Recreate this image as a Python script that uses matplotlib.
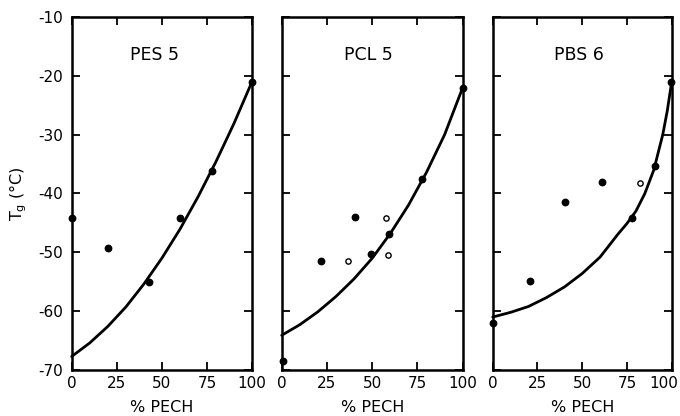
import matplotlib
matplotlib.use("Agg")
import matplotlib.pyplot as plt
import matplotlib.transforms as mtransforms

plt.rcParams['font.family'] = ['DejaVu Sans']

# ---- data ----
panel_names = ["PES 5", "PCL 5", "PBS 6"]

pes_filled_x = [0, 20, 43, 60, 78, 100]
pes_filled_y = [-44.2, -49.3, -55.0, -44.2, -36.2, -21.0]
pes_open_x = []
pes_open_y = []
pes_curve_x = [0, 10, 20, 30, 40, 50, 60, 70, 80, 90, 100]
pes_curve_y = [-67.7, -65.4, -62.6, -59.3, -55.4, -51.0, -46.1, -40.6, -34.6, -28.1, -21.0]

pcl_filled_x = [0.5, 21.5, 40.3, 49.5, 59.3, 77.7, 100]
pcl_filled_y = [-68.4, -51.4, -44.0, -50.3, -46.9, -37.5, -22.1]
pcl_open_x = [36.6, 57.4, 58.7]
pcl_open_y = [-51.5, -44.1, -50.5]
pcl_curve_x = [0, 10, 20, 30, 40, 50, 60, 70, 80, 90, 100]
pcl_curve_y = [-64.1, -62.3, -60.1, -57.5, -54.5, -51.0, -46.8, -42.0, -36.4, -30.0, -22.0]

pbs_filled_x = [0, 20.8, 40.4, 61.2, 78.0, 90.7, 99.6]
pbs_filled_y = [-62.0, -54.9, -41.4, -38.1, -44.2, -35.3, -21.0]
pbs_open_x = [82.3]
pbs_open_y = [-38.3]
pbs_curve_x = [0, 10, 20, 30, 40, 50, 60, 70, 75, 80, 85, 90, 95, 97.5, 100]
pbs_curve_y = [-61.0, -60.2, -59.2, -57.7, -55.9, -53.6, -50.8, -46.9, -45.1, -43.0, -40.0, -36.0, -30.0, -26.0, -21.0]

x_ticks = [0, 25, 50, 75, 100]
x_ticklabels = ["0", "25", "50", "75", "100"]
y_ticks = [-10, -20, -30, -40, -50, -60, -70]
y_ticklabels = ["-10", "-20", "-30", "-40", "-50", "-60", "-70"]

panels = [
    (pes_filled_x, pes_filled_y, pes_open_x, pes_open_y, pes_curve_x, pes_curve_y),
    (pcl_filled_x, pcl_filled_y, pcl_open_x, pcl_open_y, pcl_curve_x, pcl_curve_y),
    (pbs_filled_x, pbs_filled_y, pbs_open_x, pbs_open_y, pbs_curve_x, pbs_curve_y),
]

# ---- layout ----
W, H = 680, 416
fig = plt.figure(figsize=(W / 100, H / 100), dpi=100)
lefts = [71.7, 281.7, 492.7]
widths = [180.3, 181.0, 179.0]
top_px, bot_px = 17, 370
title_x = [0.46, 0.48, 0.48]

for i, (name, data) in enumerate(zip(panel_names, panels)):
    fx, fy, ox, oy, cx, cy = data
    ax = fig.add_axes([lefts[i] / W, 1 - bot_px / H, widths[i] / W, (bot_px - top_px) / H])
    ax.plot(cx, cy, color='black', lw=2.0, solid_capstyle='round',
            solid_joinstyle='round', clip_on=False, zorder=3)
    ax.plot(fx, fy, 'o', color='black', ms=4.6, clip_on=False, zorder=4)
    if ox:
        ax.plot(ox, oy, 'o', mfc='white', mec='black', mew=1.0, ms=3.8, clip_on=False, zorder=4)
    ax.set_xlim(0, 100)
    ax.set_ylim(-70, -10)
    ax.set_xticks(x_ticks)
    ax.set_xticklabels(x_ticklabels)
    ax.set_yticks(y_ticks)
    ax.tick_params(axis='both', direction='in', length=6, width=1.3,
                   top=True, right=True, labelsize=11)
    ax.tick_params(axis='x', pad=4)
    ax.tick_params(axis='y', pad=6)
    if i == 0:
        ax.set_yticklabels(y_ticklabels)
        ax.set_ylabel(r"T$_\mathregular{g}$ ($\degree$C)", fontsize=11.5, labelpad=7)
    else:
        ax.set_yticklabels([])
    if i == len(panels) - 1:
        last = ax.get_xticklabels()[-1]
        last.set_transform(last.get_transform() +
                           mtransforms.ScaledTranslation(-8 / 100, 0, fig.dpi_scale_trans))
    for s in ax.spines.values():
        s.set_linewidth(1.8)
    ax.set_xlabel("% PECH", fontsize=11.5, labelpad=7)
    ax.text(title_x[i], 0.892, name, transform=ax.transAxes, ha='center', va='center',
            fontsize=12.5)

fig.savefig("out.png", dpi=100)
